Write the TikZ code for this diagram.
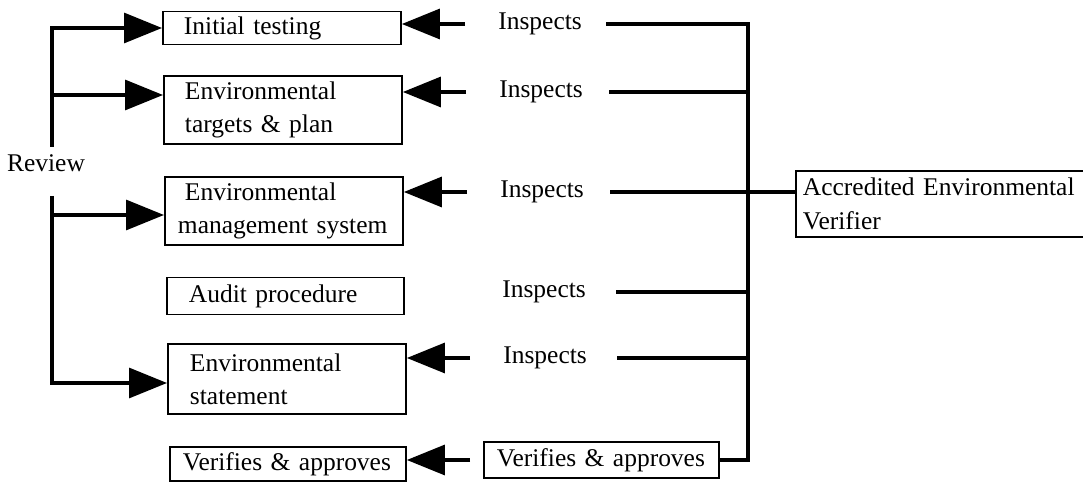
\documentclass[tikz,border=0pt]{standalone}
\usepackage{fontspec}
\setmainfont{Liberation Serif}
\usetikzlibrary{arrows.meta}
\begin{document}
\begin{tikzpicture}[x=0.02cm, y=-0.02cm,
  every node/.style={font=\fontsize{14.5}{19}\selectfont},
  box/.style={draw, line width=1.1pt, anchor=west, align=left, inner ysep=0pt},
  insp/.style={anchor=west, inner sep=0pt},
  conn/.style={line width=1.8pt},
  arr/.style={conn, -{Triangle[length=0.76cm, width=0.6cm]}},
]
\useasboundingbox (0,0) rectangle (1083,482);
\fill[white] (0,0) rectangle (1083,482);

% activity boxes
\node[box, text width=3.92cm, inner xsep=0.42cm, minimum height=0.66cm] (it) at (162,28) {Initial testing};
\node[box, text width=3.92cm, inner xsep=0.42cm, minimum height=1.36cm] (etp) at (163,110) {Environmental\\targets \& plan};
\node[box, text width=4.24cm, inner xsep=0.26cm, minimum height=1.36cm] (ems) at (164,211) {\hspace*{0.14cm}Environmental\\management system};
\node[box, text width=3.86cm, inner xsep=0.44cm, minimum height=0.74cm] (ap) at (166,296) {Audit procedure};
\node[box, text width=3.88cm, inner xsep=0.44cm, minimum height=1.40cm] (es) at (167,379) {Environmental\\statement};
\node[box, text width=4.2cm, inner xsep=0.26cm, minimum height=0.68cm] (va1) at (169,464) {\mbox{Verifies \& approves}};
\node[box, text width=4.18cm, inner xsep=0.26cm, minimum height=0.72cm] (va2) at (483,460) {\mbox{Verifies \& approves}};
\node[box, text width=5.6cm, inner xsep=0.14cm, minimum height=1.32cm] (aev) at (795,204) {Accredited Environmental\\Verifier};

% labels
\node (rv) at (46,163) {Review};
\node[insp] (i1) at (498,24) {Inspects};
\node[insp] (i2) at (499,92) {Inspects};
\node[insp] (i3) at (500,192) {Inspects};
\node[insp] (i4) at (502,292) {Inspects};
\node[insp] (i5) at (503,358) {Inspects};

% bus points
\coordinate (lt) at (52,28);
\coordinate (g1) at (52,147);
\coordinate (g2) at (52,196);
\coordinate (b2) at (52,95);
\coordinate (b3) at (52,215);
\coordinate (lb) at (52,383);
\coordinate (rx) at (748,0);

% review bus on the left
\draw[arr] (g1) -- (lt) -- (it.west);
\draw[arr] (b2) -- (b2 -| etp.west);
\draw[arr] (b3) -- (b3 -| ems.west);
\draw[arr] (g2) -- (lb) -- (lb -| es.west);

% inspection arrows
\draw[arr, shorten <=0.66cm] (i1.west) -- (i1.west -| it.east);
\draw[arr, shorten <=0.66cm] (i2.west) -- (i2.west -| etp.east);
\draw[arr, shorten <=0.66cm] (i3.west) -- (i3.west -| ems.east);
\draw[arr, shorten <=0.66cm] (i5.west) -- (i5.west -| es.east);

% verifier bus on the right
\draw[conn, shorten <=0.48cm] (i1.east) -- (i1.east -| rx) -- (va2.east -| rx) -- (va2.east);
\draw[conn, shorten <=0.52cm] (i2.east) -- (i2.east -| rx);
\draw[conn, shorten <=0.52cm] (i3.east) -- (i3.east -| aev.west);
\draw[conn, shorten <=0.6cm] (i4.east) -- (i4.east -| rx);
\draw[conn, shorten <=0.6cm] (i5.east) -- (i5.east -| rx);

% final approval
\draw[arr, shorten <=0.26cm] (va2.west) -- (va2.west -| va1.east);
\end{tikzpicture}
\end{document}
